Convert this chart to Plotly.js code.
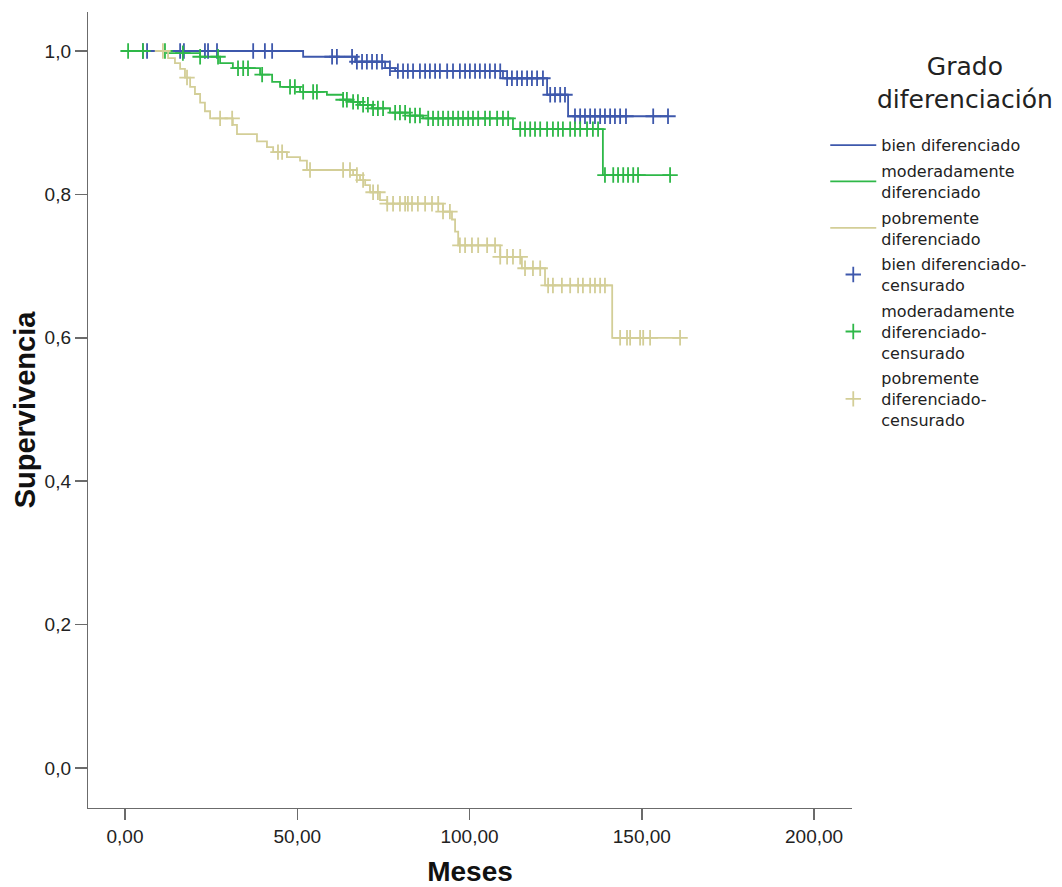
<!DOCTYPE html>
<html>
<head>
<meta charset="utf-8">
<script src="https://cdn.plot.ly/plotly-3.0.1.min.js"></script>
<style>html,body{margin:0;padding:0;background:#fff;}#chart{width:1062px;height:887px;}</style>
</head>
<body>
<div id="chart"></div>
<script>
// ---- Data ----
const legendTitle = "Grado<br>diferenciación";
const groupNames = ["bien diferenciado", "moderadamente<br>diferenciado", "pobremente<br>diferenciado"];
const censorNames = ["bien diferenciado-<br>censurado", "moderadamente<br>diferenciado-<br>censurado", "pobremente<br>diferenciado-<br>censurado"];

// Event times (months) and survival after each event
const bienTimes = [51.7, 66.8, 75.5, 78.4, 109.7, 122.5, 128.6];
const bienSurv  = [0.992, 0.985, 0.976, 0.972, 0.962, 0.939, 0.909];
const bienCens  = [5.2, 6.4, 16.0, 17.1, 23.2, 24.1, 26.7, 37.2, 40.6, 42.7, 60.1, 61.5, 65.9, 67.3, 68.8, 70.2, 71.7, 73.1, 74.6, 76.9, 79.2, 80.7, 82.1, 83.6, 85.6, 87.1, 88.5, 90.0, 91.4, 93.5, 95.2, 97.2, 98.7, 100.1, 101.6, 103.0, 104.5, 105.9, 107.4, 108.9, 110.9, 112.3, 113.8, 115.2, 116.7, 118.1, 119.6, 121.3, 123.4, 124.8, 126.3, 127.7, 130.6, 132.1, 133.5, 135.0, 136.4, 137.9, 139.3, 140.8, 142.2, 143.7, 145.4, 153.3, 157.6];

const modTimes = [12.2, 21.8, 27.6, 31.3, 39.2, 42.7, 45.0, 50.8, 58.6, 63.3, 66.2, 68.2, 71.7, 76.9, 82.7, 86.5, 112.6, 138.7];
const modSurv  = [0.997, 0.992, 0.983, 0.976, 0.967, 0.957, 0.950, 0.943, 0.939, 0.932, 0.929, 0.925, 0.920, 0.914, 0.910, 0.906, 0.891, 0.827];
const modCens  = [0.9, 5.2, 11.6, 16.8, 21.8, 27.0, 32.8, 34.3, 35.7, 39.8, 47.9, 49.3, 51.7, 54.6, 55.7, 63.3, 64.4, 66.2, 67.6, 69.1, 70.5, 72.0, 73.4, 74.9, 78.4, 79.8, 81.3, 82.7, 84.2, 85.6, 88.0, 89.4, 90.9, 92.3, 93.8, 95.2, 96.7, 98.1, 99.6, 101.0, 102.5, 104.5, 105.9, 108.0, 109.7, 111.2, 114.7, 116.1, 117.6, 119.0, 120.5, 122.5, 124.2, 125.7, 127.1, 129.2, 130.6, 132.1, 134.1, 135.8, 137.3, 139.3, 141.7, 143.1, 144.6, 146.0, 147.5, 148.9, 158.2];

const pobTimes = [12.5, 14.5, 16.0, 17.4, 18.9, 20.3, 21.8, 23.2, 24.7, 31.3, 32.5, 38.3, 41.2, 43.0, 47.0, 50.8, 52.8, 66.2, 68.2, 69.7, 71.1, 74.0, 76.1, 92.3, 94.9, 95.8, 96.7, 108.9, 115.2, 121.9, 141.4];
const pobSurv  = [0.990, 0.983, 0.975, 0.963, 0.950, 0.940, 0.928, 0.916, 0.906, 0.897, 0.884, 0.874, 0.866, 0.859, 0.852, 0.847, 0.834, 0.827, 0.820, 0.813, 0.803, 0.792, 0.787, 0.776, 0.765, 0.748, 0.729, 0.713, 0.697, 0.673, 0.600];
const pobCens  = [11.0, 18.0, 27.6, 31.1, 44.4, 45.6, 53.7, 63.3, 65.3, 67.3, 69.1, 72.0, 73.4, 76.1, 77.8, 79.8, 81.3, 82.1, 83.3, 85.0, 87.1, 89.1, 90.9, 92.3, 94.3, 97.2, 98.7, 100.7, 102.5, 105.1, 107.4, 108.9, 110.9, 112.6, 114.7, 116.1, 118.4, 120.5, 122.8, 124.2, 126.8, 129.2, 131.5, 132.9, 135.0, 136.4, 137.9, 139.3, 143.7, 145.7, 146.6, 149.5, 150.4, 152.4, 161.1];

const xTickVals = [0, 50, 100, 150, 200];
const xTickText = ["0,00", "50,00", "100,00", "150,00", "200,00"];
const yTickVals = [0, 0.2, 0.4, 0.6, 0.8, 1.0];
const yTickText = ["0,0", "0,2", "0,4", "0,6", "0,8", "1,0"];

const colors = ["#3E58AC", "#2EB848", "#D3CE97"];

// ---- Build traces ----
function survAt(times, surv, t) {
  let s = 1;
  for (let i = 0; i < times.length; i++) { if (times[i] <= t) s = surv[i]; }
  return s;
}
const groups = [
  {t: bienTimes, s: bienSurv, c: bienCens},
  {t: modTimes, s: modSurv, c: modCens},
  {t: pobTimes, s: pobSurv, c: pobCens}
];
const traces = [];
groups.forEach((g, i) => {
  const last = Math.max(g.t[g.t.length - 1], g.c[g.c.length - 1]);
  traces.push({
    x: [0].concat(g.t, [last]),
    y: [1].concat(g.s, [g.s[g.s.length - 1]]),
    mode: "lines", line: {shape: "hv", color: colors[i], width: 1.8},
    name: groupNames[i], legendgroup: "g" + i, hoverinfo: "skip"
  });
});
groups.forEach((g, i) => {
  traces.push({
    x: g.c, y: g.c.map(t => survAt(g.t, g.s, t)),
    mode: "markers",
    marker: {symbol: "cross-thin", size: 11, color: colors[i], line: {color: colors[i], width: 1.8}},
    name: censorNames[i], legendgroup: "c" + i, hoverinfo: "skip"
  });
});

const axisColor = "#6b6b6b";
const layout = {
  width: 1062, height: 887,
  margin: {l: 88, r: 210, t: 12, b: 79},
  paper_bgcolor: "#ffffff", plot_bgcolor: "#ffffff",
  font: {family: "Arial, Liberation Sans, sans-serif", color: "#222"},
  xaxis: {
    range: [-10.74, 211.0], showgrid: false, zeroline: false, automargin: false,
    showline: true, linecolor: axisColor, linewidth: 1.2,
    ticks: "outside", ticklen: 11, tickcolor: axisColor, tickwidth: 1.5,
    tickvals: xTickVals, ticktext: xTickText,
    tickfont: {size: 19, family: "Arial, Liberation Sans, sans-serif", color: "#222"},
    title: {text: "<b>Meses</b>", font: {size: 28, family: "Arial, Liberation Sans, sans-serif", color: "#111"}, standoff: 15}
  },
  yaxis: {
    range: [-0.0558, 1.0544], showgrid: false, zeroline: false, automargin: false,
    showline: true, linecolor: axisColor, linewidth: 1.2,
    ticks: "outside", ticklen: 12, tickcolor: axisColor, tickwidth: 1.5,
    tickvals: yTickVals, ticktext: yTickText,
    tickfont: {size: 19, family: "Arial, Liberation Sans, sans-serif", color: "#222"},
    title: {text: "<b>Supervivencia</b>", font: {size: 29, family: "Arial, Liberation Sans, sans-serif", color: "#111"}, standoff: 0}
  },
  legend: {
    xref: "paper", yref: "paper",
    x: 0.965, xanchor: "left", y: 0.854, yanchor: "top",
    font: {size: 16, family: "DejaVu Sans, sans-serif", color: "#222"},
    tracegroupgap: 2, itemwidth: 46, bgcolor: "rgba(0,0,0,0)", borderwidth: 0
  },
  annotations: [{
    xref: "paper", yref: "paper", x: 1.148, y: 0.952, xanchor: "center", yanchor: "top",
    text: legendTitle, showarrow: false, align: "center",
    font: {size: 25, family: "DejaVu Sans, sans-serif", color: "#222"}
  }],
  showlegend: true
};
Plotly.newPlot("chart", traces, layout, {staticPlot: true, displayModeBar: false});
</script>
</body>
</html>
